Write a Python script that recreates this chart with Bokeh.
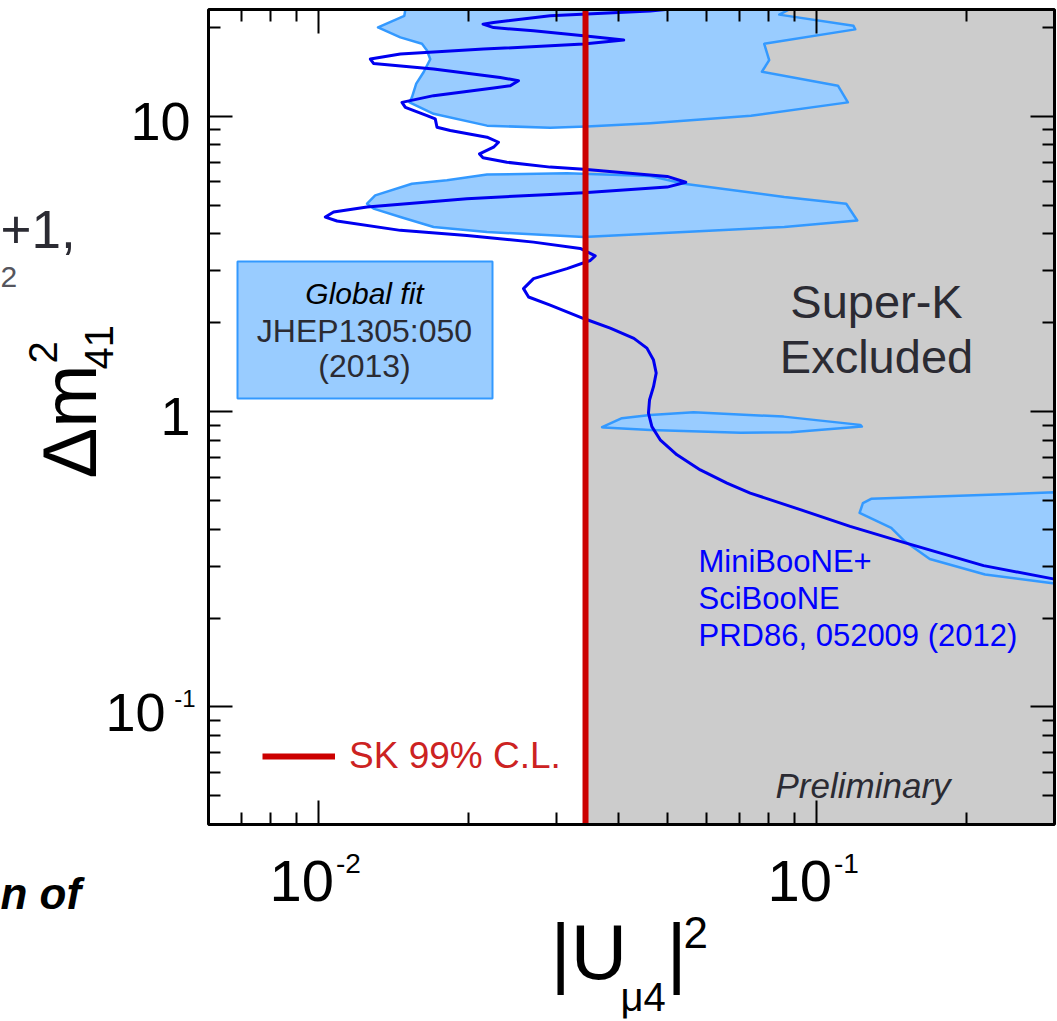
import math

from bokeh.embed import file_html
from bokeh.models import (BoxAnnotation, FixedTicker, Label, Legend, LegendItem,
                          LogAxis, Range1d)
from bokeh.plotting import figure
from bokeh.resources import INLINE

# ---------------------------------------------------------------- data ----
X_RANGE = (0.006, 0.3)      # |U_mu4|^2
Y_RANGE = (0.04, 23.0)      # Delta m^2_41 (eV^2)

# Super-K 99% C.L. upper limit on |U_mu4|^2
sk_limit = 0.0343

# Global fit (JHEP1305:050) allowed islands
gfit_a_x = [0.01491, 0.01484, 0.01314, 0.01457, 0.01610, 0.01648, 0.01673, 0.01622,
            0.01568, 0.01537, 0.01520, 0.01699, 0.02175, 0.02913, 0.03452, 0.04627,
            0.0737, 0.1154, 0.1102, 0.07754, 0.0802, 0.07837, 0.1194, 0.1184,
            0.0840, 0.0880]
gfit_a_y = [23.0, 21.9, 20.0, 18.5, 17.6, 16.7, 15.6, 14.1,
            12.9, 11.6, 11.15, 10.2, 9.30, 9.14, 9.23, 9.48,
            10.05, 11.15, 12.7, 14.16, 15.5, 17.6, 19.7, 20.25,
            22.1, 23.0]

gfit_b_x = [0.01249, 0.01297, 0.01537, 0.01807, 0.02175, 0.03148, 0.04627, 0.05409,
            0.0860, 0.1145, 0.1205, 0.0860, 0.05409, 0.03401, 0.02175, 0.01699,
            0.01457, 0.01287]
gfit_b_y = [5.06, 5.40, 5.91, 6.07, 6.35, 6.42, 6.28, 5.91,
            5.33, 5.06, 4.44, 4.22, 4.06, 3.90, 4.06, 4.22,
            4.56, 4.87]

gfit_c_x = [0.03703, 0.04059, 0.04627, 0.05654, 0.08574, 0.1222, 0.1231, 0.08872,
            0.07034, 0.04627, 0.03732]
gfit_c_y = [0.886, 0.950, 0.975, 0.995, 0.962, 0.902, 0.890, 0.852,
            0.849, 0.867, 0.883]

gfit_d_x = [0.3, 0.1285, 0.1237, 0.1218, 0.1410, 0.1501, 0.1685, 0.2176, 0.3]
gfit_d_y = [0.533, 0.507, 0.490, 0.454, 0.404, 0.364, 0.317, 0.281, 0.262]

# MiniBooNE + SciBooNE 90% C.L. contour (PRD86, 052009)
mb_x = [0.04968, 0.04627, 0.02913, 0.02242, 0.02135, 0.02242, 0.02697, 0.03399,
        0.04093, 0.03399, 0.02141, 0.01457, 0.01268, 0.01287, 0.01699, 0.02312,
        0.02516, 0.02422, 0.02242, 0.01699, 0.01468, 0.01491, 0.01648, 0.01712,
        0.01726, 0.01835, 0.02175, 0.02294, 0.02242, 0.02101, 0.02135, 0.02385,
        0.02913, 0.03401, 0.05005, 0.05452, 0.05005, 0.03401, 0.02913, 0.01982,
        0.01249, 0.0107, 0.0103, 0.01087, 0.01457, 0.01982, 0.02697, 0.03347,
        0.03587, 0.03506, 0.03148, 0.02697, 0.02575, 0.02636, 0.02913, 0.03401,
        0.03845, 0.0429, 0.04556, 0.04697, 0.04756, 0.04697, 0.04611, 0.04589,
        0.04662, 0.04844, 0.05235, 0.05832, 0.06597, 0.07346, 0.0926, 0.1166,
        0.1493, 0.2161, 0.3]
mb_y = [23.0, 22.75, 21.89, 20.78, 20.52, 19.98, 19.48, 18.74,
        18.12, 17.56, 16.89, 16.25, 15.63, 15.11, 14.46, 13.54,
        13.20, 12.70, 12.47, 11.75, 11.15, 10.72, 10.05, 9.80,
        9.18, 8.95, 8.50, 8.17, 7.86, 7.46, 7.24, 6.99,
        6.73, 6.62, 6.26, 5.98, 5.76, 5.51, 5.44, 5.26,
        4.93, 4.74, 4.56, 4.42, 4.11, 3.95, 3.75, 3.57,
        3.37, 3.25, 3.05, 2.82, 2.61, 2.445, 2.293, 2.067,
        1.918, 1.770, 1.641, 1.495, 1.351, 1.215, 1.095, 0.988,
        0.890, 0.803, 0.714, 0.635, 0.573, 0.530, 0.466, 0.409,
        0.361, 0.301, 0.271]

# tick labels: value -> (mantissa text, exponent text)
x_tick_labels = {0.01: ("10", "-2"), 0.1: ("10", "-1")}
y_tick_labels = {10.0: ("10", ""), 1.0: ("1", ""), 0.1: ("10", "-1")}

# --------------------------------------------------------------- layout ---
W, H = 1057, 1021
FR_L, FR_R, FR_T, FR_B = 208, 1054, 9, 824      # plot box on the canvas (px)
DROP = 0.35   # renderer places the alphabetic baseline this many ems too low

LX0, LX1 = math.log10(X_RANGE[0]), math.log10(X_RANGE[1])
LY0, LY1 = math.log10(Y_RANGE[0]), math.log10(Y_RANGE[1])
DX = (LX1 - LX0) / (FR_R - FR_L)    # decades per pixel
DY = (LY1 - LY0) / (FR_B - FR_T)


def px_x(px):
    """Canvas pixel column -> |U|^2 value."""
    return 10 ** (LX0 + (px - FR_L) * DX)


def px_y(py):
    """Canvas pixel row (from top) -> Delta m^2 value."""
    return 10 ** (LY0 + (FR_B - py) * DY)


FONT = "Liberation Sans"
FILL_BLUE = "#99ccff"
EDGE_BLUE = "#3399ff"
CURVE_BLUE = "#0000f0"
SK_RED = "#cc0000"
DARK = "#2b2b33"

# the drawing area spans the whole canvas so that titles and tick
# numbers around the plot box stay visible
p = figure(width=W, height=H,
           x_axis_type="log", y_axis_type="log",
           x_range=Range1d(px_x(0), px_x(W)), y_range=Range1d(px_y(H), px_y(0)),
           output_backend="svg", toolbar_location=None, min_border=0,
           background_fill_color="white", border_fill_color="white",
           outline_line_color=None)
p.grid.visible = False

x_major = [0.01, 0.1]
x_minor = [k * 10.0 ** e for e in (-3, -2, -1) for k in range(2, 10)
           if X_RANGE[0] < k * 10.0 ** e < X_RANGE[1]]
y_major = [0.1, 1.0, 10.0]
y_minor = [k * 10.0 ** e for e in (-2, -1, 0, 1) for k in range(2, 10)
           if Y_RANGE[0] < k * 10.0 ** e < Y_RANGE[1]]

p.add_layout(LogAxis(), "above")
p.add_layout(LogAxis(), "right")


def style_axis(ax, major, minor, where):
    ax.fixed_location = where
    ax.ticker = FixedTicker(ticks=major, minor_ticks=minor)
    ax.major_tick_in = 24
    ax.major_tick_out = 0
    ax.minor_tick_in = 12
    ax.minor_tick_out = 0
    ax.major_tick_line_width = 2
    ax.minor_tick_line_width = 2
    ax.major_tick_line_color = "black"
    ax.minor_tick_line_color = "black"
    ax.axis_line_color = None
    # tick numbers are drawn as separate labels below
    ax.major_label_text_font_size = "1px"
    ax.major_label_text_color = None
    ax.major_label_standoff = 0


for ax in p.below:
    style_axis(ax, x_major, x_minor, Y_RANGE[0])
for ax in p.above:
    style_axis(ax, x_major, x_minor, Y_RANGE[1])
for ax in p.left:
    style_axis(ax, y_major, y_minor, X_RANGE[0])
for ax in p.right:
    style_axis(ax, y_major, y_minor, X_RANGE[1])

# excluded region right of the SK limit
p.add_layout(BoxAnnotation(left=sk_limit, right=X_RANGE[1],
                           bottom=Y_RANGE[0], top=Y_RANGE[1],
                           fill_color="#cccccc", fill_alpha=1.0,
                           line_alpha=0, level="underlay"))

# global fit islands
p.patches([gfit_a_x, gfit_b_x, gfit_c_x, gfit_d_x],
          [gfit_a_y, gfit_b_y, gfit_c_y, gfit_d_y],
          fill_color=FILL_BLUE, fill_alpha=1.0,
          line_color=EDGE_BLUE, line_width=2.5, line_join="round")

# MiniBooNE+SciBooNE contour
p.line(mb_x, mb_y, line_color=CURVE_BLUE, line_width=3, line_join="round")

# SK 99% C.L. limit
sk_line = p.line([sk_limit, sk_limit], list(Y_RANGE), line_color=SK_RED, line_width=6)

# plot box
p.add_layout(BoxAnnotation(left=X_RANGE[0], right=X_RANGE[1],
                           bottom=Y_RANGE[0], top=Y_RANGE[1],
                           fill_alpha=0, line_color="black", line_alpha=1.0,
                           line_width=3))

legend = Legend(items=[LegendItem(label="SK 99% C.L.", renderers=[sk_line])],
                location=(262, H - 777), background_fill_alpha=0,
                border_line_alpha=0, padding=0, margin=0, spacing=0,
                label_standoff=14, glyph_width=73, glyph_height=40,
                label_height=40, label_text_font=FONT,
                label_text_font_size="37px", label_text_color="#cc2222")
p.add_layout(legend)


def text_at(txt, cx, cy, size, color=DARK, align="left", style="normal", angle=0.0):
    """Text whose baseline starts at a canvas pixel position (origin top-left)."""
    lift = DROP * size
    cx -= lift * math.sin(angle)
    cy -= lift * math.cos(angle)
    return Label(x=px_x(cx), y=px_y(cy),
                 text=txt, text_font=FONT, text_font_size=f"{size}px",
                 text_color=color, text_align=align, text_baseline="alphabetic",
                 text_font_style=style, angle=angle)


def tick_text(txt, xv, yv, dx, dy, size, align):
    """Tick number anchored at a data position, shifted by dx, dy pixels (dy down)."""
    return Label(x=xv, y=yv, x_offset=dx, y_offset=-dy + DROP * size, text=txt,
                 text_font=FONT, text_font_size=f"{size}px", text_color="black",
                 text_align=align, text_baseline="alphabetic")


# tick numbers
for v, (mant, expo) in x_tick_labels.items():
    p.add_layout(tick_text(mant, v, Y_RANGE[0], 15, 77, 58, "right"))
    if expo:
        p.add_layout(tick_text(expo, v, Y_RANGE[0], 17, 49, 28, "left"))
for v, (mant, expo) in y_tick_labels.items():
    p.add_layout(tick_text(mant, X_RANGE[0], v, -43 if expo else -18, 24, 54, "right"))
    if expo:
        p.add_layout(tick_text(expo, X_RANGE[0], v, -13, 0, 24, "right"))

# axis titles
p.add_layout(text_at("|U", 550, 979, 78, color="black"))
p.add_layout(text_at("\u03bc4", 620, 1010, 40, color="black"))
p.add_layout(text_at("|", 666, 979, 78, color="black"))
p.add_layout(text_at("2", 683, 947, 44, color="black"))

half_pi = math.pi / 2
p.add_layout(text_at("\u0394m", 96, 478, 76, color="black", angle=half_pi))
p.add_layout(text_at("2", 56, 363, 40, color="black", angle=half_pi))
p.add_layout(text_at("41", 112, 369, 40, color="black", angle=half_pi))

# global fit key box
p.add_layout(BoxAnnotation(left=px_x(237), right=px_x(492),
                           top=px_y(261), bottom=px_y(398),
                           fill_color=FILL_BLUE, fill_alpha=1.0,
                           line_color=EDGE_BLUE, line_alpha=1.0, line_width=2))
p.add_layout(text_at("Global fit", 364, 303, 30, color="black", align="center",
                     style="italic"))
p.add_layout(text_at("JHEP1305:050", 364, 342, 32, align="center"))
p.add_layout(text_at("(2013)", 364, 377, 32, align="center"))

# region annotations
p.add_layout(text_at("Super-K", 876, 317, 47, align="center"))
p.add_layout(text_at("Excluded", 876, 372, 47, align="center"))
p.add_layout(text_at("MiniBooNE+", 698, 572, 31, color="#0000ff"))
p.add_layout(text_at("SciBooNE", 698, 609, 31, color="#0000ff"))
p.add_layout(text_at("PRD86, 052009 (2012)", 698, 646, 31, color="#0000ff"))
p.add_layout(text_at("Preliminary", 775, 797, 35, style="italic"))

# neighbouring slide text at the left edge
p.add_layout(text_at("+1,", 0, 248, 53))
p.add_layout(text_at("2", 0, 287, 30, color="#55555d"))
p.add_layout(text_at("n of", 0, 908, 44, color="black", style="bold italic"))

open("out.html", "w").write(file_html(p, INLINE))
